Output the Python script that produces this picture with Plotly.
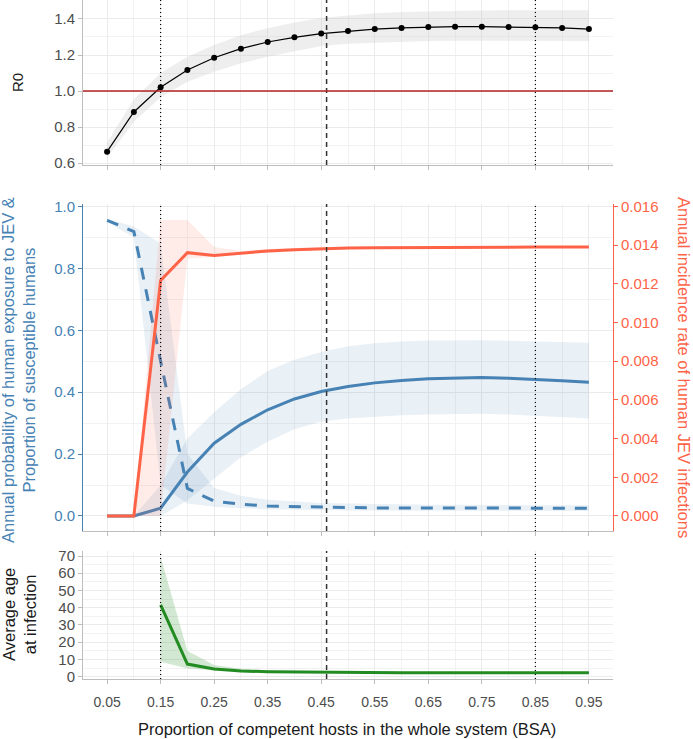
import plotly.graph_objects as go

# proportion of competent hosts (BSA)
bsa = [0.05, 0.10, 0.15, 0.20, 0.25, 0.30, 0.35, 0.40, 0.45, 0.50,
       0.55, 0.60, 0.65, 0.70, 0.75, 0.80, 0.85, 0.90, 0.95]

# R0 with uncertainty band
r0 = [0.664, 0.884, 1.021, 1.117, 1.185, 1.235, 1.272, 1.298, 1.319, 1.333,
      1.344, 1.350, 1.355, 1.357, 1.357, 1.355, 1.354, 1.350, 1.344]
r0_hi = [0.715, 0.955, 1.100, 1.190, 1.255, 1.310, 1.348, 1.380, 1.405, 1.420,
         1.432, 1.439, 1.443, 1.446, 1.447, 1.448, 1.448, 1.448, 1.448]
r0_lo = [0.630, 0.830, 0.966, 1.052, 1.107, 1.154, 1.190, 1.220, 1.250, 1.262,
         1.268, 1.273, 1.277, 1.279, 1.280, 1.280, 1.280, 1.279, 1.278]

# annual probability of human exposure to JEV
expo = [0.0, 0.0, 0.025, 0.142, 0.235, 0.296, 0.343, 0.378, 0.402, 0.418,
        0.430, 0.438, 0.443, 0.446, 0.447, 0.445, 0.442, 0.437, 0.432]
expo_hi = [0.0, 0.0, 0.10, 0.25, 0.335, 0.41, 0.468, 0.505, 0.530, 0.548,
           0.558, 0.564, 0.567, 0.568, 0.568, 0.566, 0.564, 0.562, 0.560]
expo_lo = [0.0, 0.0, 0.0, 0.05, 0.12, 0.19, 0.24, 0.28, 0.305, 0.315,
           0.320, 0.325, 0.328, 0.330, 0.330, 0.328, 0.325, 0.320, 0.315]

# proportion of susceptible humans
susc = [0.955, 0.919, 0.50, 0.089, 0.048, 0.038, 0.032, 0.030, 0.028, 0.027,
        0.026, 0.026, 0.026, 0.025, 0.025, 0.025, 0.025, 0.025, 0.025]
susc_hi = [0.960, 0.935, 0.88, 0.20, 0.09, 0.065, 0.052, 0.046, 0.042, 0.040,
           0.038, 0.037, 0.036, 0.036, 0.035, 0.035, 0.035, 0.035, 0.035]
susc_lo = [0.950, 0.900, 0.10, 0.040, 0.030, 0.025, 0.022, 0.020, 0.019, 0.018,
           0.018, 0.017, 0.017, 0.017, 0.016, 0.016, 0.016, 0.016, 0.016]

# annual incidence rate of human JEV infections (right axis)
inc = [0.0, 0.0, 0.01218, 0.01361, 0.01347, 0.0136, 0.0137, 0.01376, 0.01382, 0.01385,
       0.01387, 0.01388, 0.01389, 0.0139, 0.0139, 0.0139, 0.0139, 0.0139, 0.0139]
inc_hi = [0.0, 0.0, 0.0153, 0.0153, 0.0139, 0.0137, 0.0138, 0.01385, 0.0139, 0.0139,
          0.0139, 0.0139, 0.0139, 0.01395, 0.01395, 0.01395, 0.01395, 0.01395, 0.01395]
inc_lo = [0.0, 0.0, 0.0, 0.0133, 0.0134, 0.0135, 0.0136, 0.01368, 0.01375, 0.0138,
          0.01382, 0.01384, 0.01385, 0.01385, 0.01385, 0.01385, 0.01385, 0.01385, 0.01385]

# average age at infection (undefined where no infection)
age = [None, None, 41.6, 7.3, 4.4, 3.3, 2.9, 2.7, 2.5, 2.4,
       2.3, 2.3, 2.3, 2.3, 2.3, 2.3, 2.3, 2.3, 2.3]
age_hi = [None, None, 69.6, 14.9, 6.8, 4.6, 3.7, 3.3, 3.0, 2.8,
          2.7, 2.7, 2.7, 2.7, 2.7, 2.7, 2.7, 2.7, 2.7]
age_lo = [None, None, 8.7, 4.8, 3.7, 2.9, 2.5, 2.3, 2.2, 2.1,
          2.0, 2.0, 2.0, 2.0, 2.0, 2.0, 2.0, 2.0, 2.0]

vlines_dotted = [0.15, 0.85]
vline_dashed = [0.46]
r0_threshold = 1.0

BLUE = '#4682B4'
RED = '#FF6347'
GREEN = '#228B22'
FONT = 'Liberation Sans, Arial, sans-serif'
TICK = '#4D4D4D'
GRID = '#EBEBEB'
AXL = '#BDBDBD'


def band(xs, lo, hi, fill, xa, ya):
    pts = [(a, l, h) for a, l, h in zip(xs, lo, hi) if l is not None]
    px = [p[0] for p in pts] + [p[0] for p in pts][::-1]
    py = [p[2] for p in pts] + [p[1] for p in pts][::-1]
    return go.Scatter(x=px, y=py, fill='toself', fillcolor=fill, mode='lines',
                      line=dict(width=0), hoverinfo='skip', showlegend=False,
                      xaxis=xa, yaxis=ya)


fig = go.Figure()

# top: R0
fig.add_trace(band(bsa, r0_lo, r0_hi, 'rgba(200,200,200,0.3)', 'x', 'y'))
fig.add_trace(go.Scatter(x=bsa, y=r0, mode='lines+markers', line=dict(color='black', width=1.2),
                         marker=dict(color='black', size=6), xaxis='x', yaxis='y', showlegend=False))

# middle: probabilities + incidence
fig.add_trace(band(bsa, susc_lo, susc_hi, 'rgba(70,130,180,0.12)', 'x2', 'y2'))
fig.add_trace(band(bsa, expo_lo, expo_hi, 'rgba(70,130,180,0.12)', 'x2', 'y2'))
fig.add_trace(band(bsa, inc_lo, inc_hi, 'rgba(255,99,71,0.12)', 'x2', 'y3'))
fig.add_trace(go.Scatter(x=bsa, y=expo, mode='lines', line=dict(color=BLUE, width=3),
                         xaxis='x2', yaxis='y2', showlegend=False))
fig.add_trace(go.Scatter(x=bsa, y=susc, mode='lines', line=dict(color=BLUE, width=3, dash='12px,10px'),
                         xaxis='x2', yaxis='y2', showlegend=False))
fig.add_trace(go.Scatter(x=bsa, y=inc, mode='lines', line=dict(color=RED, width=3),
                         xaxis='x2', yaxis='y3', showlegend=False))

# bottom: average age at infection
fig.add_trace(band(bsa, age_lo, age_hi, 'rgba(34,139,34,0.2)', 'x3', 'y4'))
fig.add_trace(go.Scatter(x=bsa, y=age, mode='lines', line=dict(color=GREEN, width=3),
                         xaxis='x3', yaxis='y4', showlegend=False))

# reference lines in each panel
for xa, ya in [('x', 'y'), ('x2', 'y2'), ('x3', 'y4')]:
    for v in vlines_dotted:
        fig.add_shape(type='line', xref=xa, yref=ya + ' domain', x0=v, x1=v, y0=0, y1=1,
                      line=dict(color='black', width=1.2, dash='1px,3px'))
    for v in vline_dashed:
        fig.add_shape(type='line', xref=xa, yref=ya + ' domain', x0=v, x1=v, y0=0, y1=1,
                      line=dict(color='#333333', width=1.5, dash='5px,4px'))
fig.add_shape(type='line', xref='x domain', yref='y', x0=0, x1=1, y0=r0_threshold, y1=r0_threshold,
              line=dict(color='#B22222', width=1.5))

xcommon = dict(range=[0.005, 0.995], tick0=0.05, dtick=0.1, showgrid=True, gridcolor=GRID,
               minor=dict(tick0=0.0, dtick=0.1, showgrid=True, gridcolor='#F2F2F2', ticks=''),
               showline=True, linecolor=AXL, ticks='outside', ticklen=4, tickcolor=AXL,
               zeroline=False, tickfont=dict(color=TICK, size=14), domain=[0, 1])
ycommon = dict(showgrid=True, gridcolor=GRID, showline=True, linecolor=AXL, ticks='outside',
               ticklen=4, tickcolor=AXL, zeroline=False, tickfont=dict(color=TICK, size=15))

fig.update_layout(
    width=693, height=739, plot_bgcolor='white', paper_bgcolor='white',
    margin=dict(l=83, r=80, t=0, b=60, autoexpand=False),
    font=dict(family=FONT),
    xaxis=dict(xcommon, anchor='y', showticklabels=False),
    xaxis2=dict(xcommon, anchor='y2', showticklabels=False, matches='x'),
    xaxis3=dict(xcommon, anchor='y4', tickformat='.2f', matches='x', ticklabelstandoff=6),
    yaxis=dict(ycommon, domain=[0.757, 1.0], range=[0.59, 1.505], tick0=0.6, dtick=0.2,
               tickformat='.1f', minor=dict(dtick=0.1, showgrid=True, gridcolor='#F2F2F2'),
               anchor='x'),
    yaxis2=dict(ycommon, domain=[0.218, 0.6996], range=[-0.0485, 1.008], tick0=0, dtick=0.2,
                tickformat='.1f', minor=dict(dtick=0.1, showgrid=True, gridcolor='#F2F2F2'),
                linecolor=BLUE, tickcolor=BLUE, tickfont=dict(color=BLUE, size=15), anchor='x2'),
    yaxis3=dict(overlaying='y2', side='right', anchor='x2', range=[-0.0485 * 0.016, 1.008 * 0.016],
                tick0=0, dtick=0.002, tickformat='.3f', showgrid=False, zeroline=False,
                showline=True, linecolor=RED, ticks='outside', ticklen=4, tickcolor=RED,
                tickfont=dict(color=RED, size=15)),
    yaxis4=dict(ycommon, domain=[0, 0.1885], range=[-1.35, 72.9], tick0=0, dtick=10,
                minor=dict(dtick=5, showgrid=True, gridcolor='#F2F2F2'), anchor='x3'),
)

ann = dict(xref='paper', yref='paper', showarrow=False, xanchor='center', yanchor='middle')
fig.add_annotation(ann, text='R0', x=(17 - 83) / 530, y=(679 - 83) / 679, textangle=-90,
                   font=dict(family=FONT, size=15, color='#1a1a1a'))
fig.add_annotation(ann, text='Annual probability of human exposure to JEV &<br>Proportion of susceptible humans',
                   x=(18 - 83) / 530, y=(679 - 370) / 679, textangle=-90,
                   font=dict(family=FONT, size=16.5, color=BLUE))
fig.add_annotation(ann, text='Annual incidence rate of human JEV infections',
                   x=(684 - 83) / 530, y=(679 - 367) / 679, textangle=90,
                   font=dict(family=FONT, size=16.5, color=RED))
fig.add_annotation(ann, text='Average age<br>at infection', x=(19 - 83) / 530, y=(679 - 615) / 679,
                   textangle=-90, font=dict(family=FONT, size=16.5, color='#1a1a1a'))
fig.add_annotation(ann, text='Proportion of competent hosts in the whole system (BSA)',
                   x=(347 - 83) / 530, y=(679 - 729) / 679,
                   font=dict(family=FONT, size=16.5, color='#1a1a1a'))

# the page body has a default margin; drop it so the figure sits at the window origin
fig.write_html('out.html', config={'displayModeBar': False},
               post_script="document.body.style.margin='0px';")
